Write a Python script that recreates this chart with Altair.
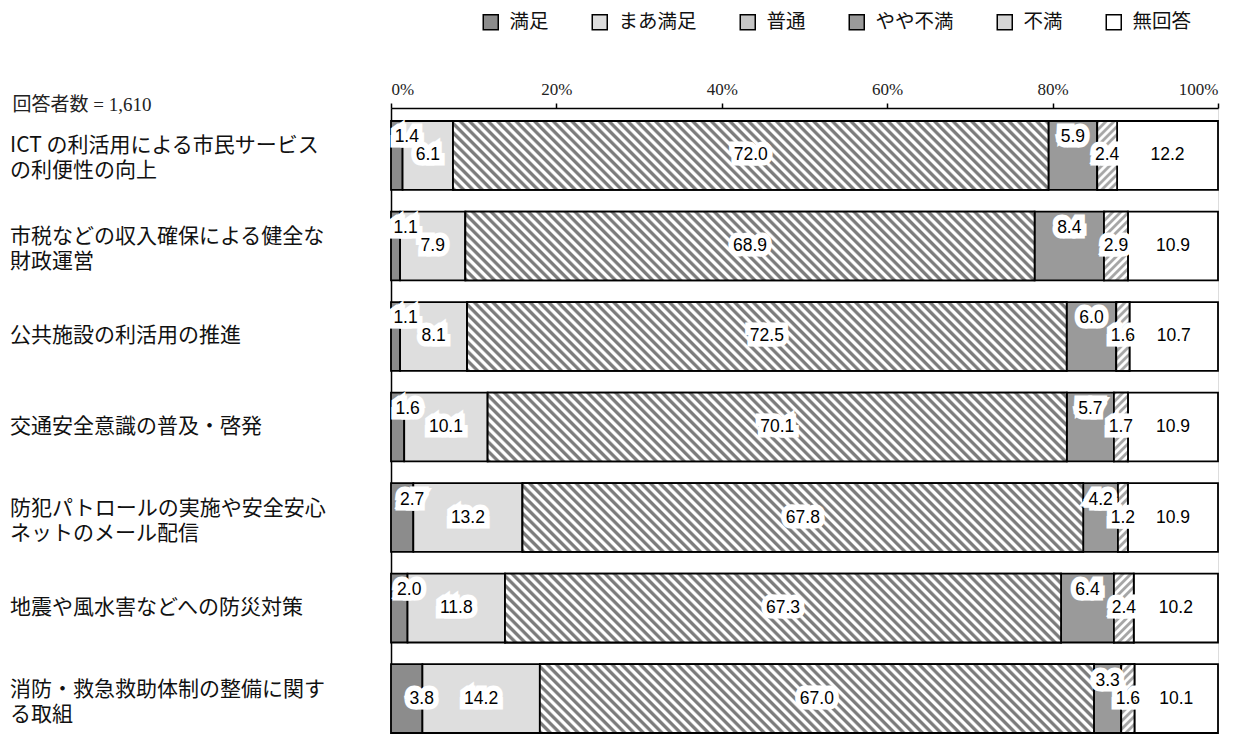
import altair as alt
import pandas as pd
import numpy as np

# ---------------- data ----------------
categories = [
    "ICT の利活用による市民サービス\nの利便性の向上",
    "市税などの収入確保による健全な\n財政運営",
    "公共施設の利活用の推進",
    "交通安全意識の普及・啓発",
    "防犯パトロールの実施や安全安心\nネットのメール配信",
    "地震や風水害などへの防災対策",
    "消防・救急救助体制の整備に関す\nる取組",
]
responses = ["満足", "まあ満足", "普通", "やや不満", "不満", "無回答"]
satisfied = [1.4, 1.1, 1.1, 1.6, 2.7, 2.0, 3.8]
somewhat_satisfied = [6.1, 7.9, 8.1, 10.1, 13.2, 11.8, 14.2]
neutral = [72.0, 68.9, 72.5, 70.1, 67.8, 67.3, 67.0]
somewhat_dissatisfied = [5.9, 8.4, 6.0, 5.7, 4.2, 6.4, 3.3]
dissatisfied = [2.4, 2.9, 1.6, 1.7, 1.2, 2.4, 1.6]
no_answer = [12.2, 10.9, 10.7, 10.9, 10.9, 10.2, 10.1]
x_ticks = [0, 20, 40, 60, 80, 100]
respondents_note = "回答者数 = 1,610"

series = [satisfied, somewhat_satisfied, neutral,
          somewhat_dissatisfied, dissatisfied, no_answer]

rows = []
for i, cat in enumerate(categories):
    vals = [s[i] for s in series]
    total = sum(vals)
    acc = 0.0
    for j, (resp, v) in enumerate(zip(responses, vals)):
        start = acc / total * 100
        acc += v
        end = acc / total * 100
        rows.append(dict(category=cat, response=resp, order=j, value=v,
                         start=start, end=end, mid=(start + end) / 2,
                         label=f"{v:.1f}", row=i))
df = pd.DataFrame(rows)

# ---------------- layout ----------------
W = 827
H = 626
N = len(categories)
P_IN = 0.24
P_OUT = 0.0773
STEP = H / (N - P_IN + 2 * P_OUT)
BAR_H = STEP * (1 - P_IN)

GOTHIC = "Noto Sans CJK JP"
NUMF = "Liberation Sans, Noto Sans CJK JP"
SERIF = "Liberation Serif, Noto Sans CJK JP"

flat_colors = ["#8c8c8c", "#dedede", "#c6c6c6", "#9a9a9a", "#d6d6d6", "#ffffff"]


def stripe_gradient(w, h, period, dark, light, forward):
    w = max(w, 0.5)
    k = (w + h) / (w * w + h * h)
    if forward:      # "/" stripes
        x1, y1, x2, y2 = 0, 0, k * w, k * h
    else:            # "\" stripes
        x1, y1, x2, y2 = 0, 1, k * w, 1 - k * h
    L = w + h
    phases = [(0.0, dark), (0.3, dark), (0.5, light), (0.8, light)]
    stops = []
    n = int(np.ceil(L / period)) + 1
    for p in range(n):
        for ph, c in phases:
            s = (p + ph) * period
            if s > L:
                break
            stops.append(alt.GradientStop(offset=s / L, color=c))
    return alt.LinearGradient(gradient="linear", stops=stops,
                              x1=x1, y1=y1, x2=x2, y2=y2)


y_enc = alt.Y("category:N",
              scale=alt.Scale(domain=categories, paddingInner=P_IN,
                              paddingOuter=P_OUT, align=0.93),
              axis=alt.Axis(labels=False, ticks=False, domain=True,
                            domainColor="black", domainWidth=1.5,
                            title=respondents_note, titleAngle=0,
                            titleX=-379, titleY=-4, titleAlign="left",
                            titleBaseline="middle", titleFont=SERIF,
                            titleFontSize=19, titleFontWeight="normal",
                            titleColor="#222"))

x_scale = alt.Scale(domain=[0, 100], nice=False)
x_axis = alt.Axis(orient="top", values=x_ticks, labelExpr="datum.value + '%'",
                  domain=True, domainColor="black", domainWidth=1.5,
                  ticks=True, tickColor="black", tickSize=5, tickWidth=1.5,
                  labelFont=SERIF, labelFontSize=17, labelColor="#222",
                  labelPadding=5, grid=False, title=None)

base = alt.Chart(df)

bars = base.mark_bar(stroke="black", strokeWidth=1.8).encode(
    y=y_enc,
    x=alt.X("start:Q", scale=x_scale, axis=x_axis),
    x2="end:Q",
    color=alt.Color("response:N",
                    scale=alt.Scale(domain=responses, range=flat_colors),
                    legend=alt.Legend(orient="none", legendX=90, legendY=-96,
                                      direction="horizontal", columns=6,
                                      symbolType="square", symbolSize=225,
                                      symbolStrokeColor="black",
                                      symbolStrokeWidth=1.5,
                                      labelFont=GOTHIC, labelFontSize=19.5,
                                      labelColor="#111", labelOffset=9,
                                      columnPadding=40, padding=0,
                                      title=None)),
    order=alt.Order("order:Q"),
)

layers = [bars]

# striped overlays
stripe_spec = {"普通": (9.3, "#7c7c7c", "#ffffff", False),
               "不満": (8.0, "#a6a6a6", "#ffffff", True)}
for resp, (period, dark, light, fwd) in stripe_spec.items():
    for i, cat in enumerate(categories):
        r = df[(df.category == cat) & (df.response == resp)].iloc[0]
        w = (r.end - r.start) / 100 * W
        grad = stripe_gradient(w, BAR_H, period, dark, light, fwd)
        layers.append(
            base.transform_filter(
                (alt.datum.row == i) & (alt.datum.response == resp)
            ).mark_bar(fill=grad, stroke="black", strokeWidth=1.8).encode(
                y=y_enc,
                x=alt.X("start:Q", scale=x_scale, axis=x_axis),
                x2="end:Q",
            )
        )


def label_layers(filt, dx=0, dy=0):
    common = dict(fontSize=17.5, font=NUMF, dx=dx, dy=dy,
                  align="center", baseline="middle")
    enc = dict(y=y_enc, x=alt.X("mid:Q", scale=x_scale, axis=x_axis),
               text="label:N")
    halo = base.transform_filter(filt).mark_text(
        fill="white", stroke="white", strokeWidth=11, strokeJoin="miter",
        **common).encode(**enc)
    txt = base.transform_filter(filt).mark_text(
        fill="black", **common).encode(**enc)
    return halo, txt


groups = [
    label_layers(alt.FieldOneOfPredicate(field="response",
                                         oneOf=["まあ満足", "普通", "不満", "無回答"])),
    label_layers((alt.datum.response == "満足") & (alt.datum.value < 3), dx=10, dy=-18),
    label_layers((alt.datum.response == "満足") & (alt.datum.value >= 3), dx=15),
    label_layers(alt.datum.response == "やや不満", dy=-18),
]
for h, _ in groups:
    layers.append(h)
for _, t in groups:
    layers.append(t)

cat_df = pd.DataFrame({"category": categories,
                       "lines": [c.count("\n") + 1 for c in categories]})
for nl, dy in [(1, 0), (2, -9)]:
    layers.append(
        alt.Chart(cat_df).transform_filter(alt.datum.lines == nl).mark_text(
            align="left", baseline="middle", fontSize=21, font=GOTHIC,
            lineBreak="\n", lineHeight=25, color="#111", dy=dy
        ).encode(y=y_enc, x=alt.value(-381), text="category:N")
    )

chart = alt.layer(*layers).properties(
    width=W, height=H,
    autosize=alt.AutoSizeParams(type="none"),
    padding={"left": 383, "top": 100, "right": 15, "bottom": 0},
).configure_view(stroke="black", strokeWidth=1.5).configure(background="white")

chart.save("out.html", embed_options={"renderer": "svg", "actions": False})
